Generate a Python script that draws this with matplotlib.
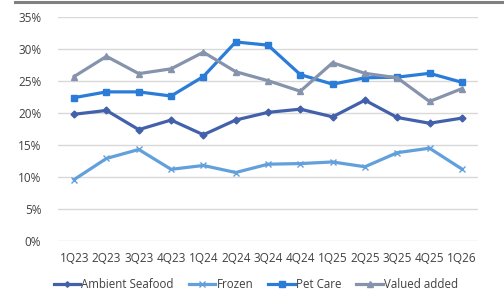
import matplotlib
matplotlib.use("Agg")
import matplotlib.pyplot as plt
from matplotlib.lines import Line2D
from matplotlib.ticker import FuncFormatter

quarters = ["1Q23", "2Q23", "3Q23", "4Q23", "1Q24", "2Q24", "3Q24",
            "4Q24", "1Q25", "2Q25", "3Q25", "4Q25", "1Q26"]
ambient = [19.8, 20.4, 17.4, 18.9, 16.6, 18.9, 20.1, 20.6, 19.4, 22.0, 19.3, 18.4, 19.2]
frozen = [9.6, 12.9, 14.3, 11.2, 11.8, 10.7, 12.0, 12.1, 12.35, 11.6, 13.8, 14.5, 11.25]
pet_care = [22.4, 23.3, 23.3, 22.65, 25.7, 31.1, 30.6, 26.0, 24.5, 25.5, 25.6, 26.2, 24.8]
valued_added = [25.7, 28.85, 26.15, 26.9, 29.5, 26.45, 25.05, 23.4, 27.85, 26.2, 25.5, 21.8, 23.8]

plt.rcParams['font.family'] = ['Open Sans', 'DejaVu Sans']

fig = plt.figure(figsize=(5.04, 2.96), dpi=100)
ax = fig.add_axes([58/504, 1 - 241/296, (478-58)/504, (241-17)/296])

x = list(range(len(quarters)))
lw = 2.3
ax.plot(x, ambient, color="#4361AB", lw=lw, marker="D", ms=3.5, label="Ambient Seafood", zorder=3)
ax.plot(x, frozen, color="#62A0DC", lw=lw, marker="x", ms=5, mew=1.0, label="Frozen", zorder=3)
ax.plot(x, pet_care, color="#2A7CD8", lw=lw, marker="s", ms=5, label="Pet Care", zorder=3)
ax.plot(x, valued_added, color="#8593AD", lw=lw, marker="^", ms=5, label="Valued added", zorder=3)

ax.set_xlim(-0.5, len(quarters) - 0.5)
ax.set_ylim(0, 35)
ax.set_yticks(range(0, 36, 5))
ax.yaxis.set_major_formatter(FuncFormatter(lambda v, p: f"{int(v)}%"))
ax.set_xticks(x)
ax.set_xticklabels(quarters)
ax.grid(axis="y", color="#D9D9D9", lw=1)
ax.set_axisbelow(True)
for s in ax.spines.values():
    s.set_visible(False)
ax.tick_params(length=0, labelsize=8.5, colors="#404040")
ax.tick_params(axis="x", pad=8)
ax.tick_params(axis="y", pad=12)

leg = fig.legend(loc="center", bbox_to_anchor=(256/504, 1 - 285/296), ncol=4,
                 frameon=False, fontsize=8.3, handlelength=2.3, columnspacing=1.3,
                 handletextpad=0.1, labelcolor="#404040", markerscale=0.8)

fig.add_artist(Line2D([15/504, 1], [1 - 2/296, 1 - 2/296], color="#808080", lw=2.2))

fig.savefig("out.png", dpi=100)
